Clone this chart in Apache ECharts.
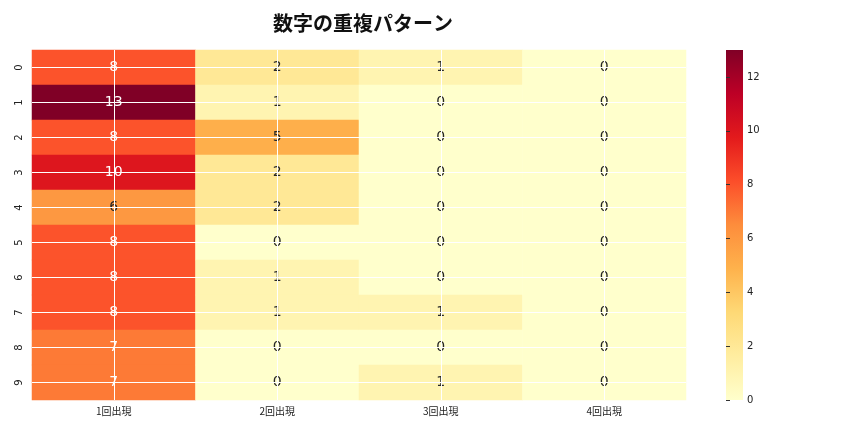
<!DOCTYPE html>
<html><head><meta charset="utf-8">
<script src="https://cdn.jsdelivr.net/npm/echarts@6/dist/echarts.min.js"></script>
<style>html,body{margin:0;padding:0;background:#fff}#c{width:864px;height:432px}</style>
</head><body><div id="c"></div>
<script>
const columns = ['1回出現','2回出現','3回出現','4回出現'];
const rows = ['0','1','2','3','4','5','6','7','8','9'];
const col1 = [8,13,8,10,6,8,8,8,7,7];
const col2 = [2,1,5,2,2,0,1,1,0,0];
const col3 = [1,0,0,0,0,0,0,1,0,1];
const col4 = [0,0,0,0,0,0,0,0,0,0];
const colorTicks = [0,2,4,6,8,10,12];
const vmin = 0, vmax = 13;
const palette = ['#ffffcc','#ffeda0','#fed976','#feb24c','#fd8d3c','#fc4e2a','#e31a1c','#bd0026','#800026'];

const cols = [col1,col2,col3,col4];
const data = [];
cols.forEach((c,ci)=>c.forEach((v,ri)=>{
  data.push({value:[ci,ri,v],label:{color: v>=7 ? '#ffffff' : '#262626'}});
}));
const font = '"DejaVu Sans","Noto Sans CJK JP",sans-serif';
const barLeft = 726, barW = 17, barTop = 50, barH = 350;
const tickMax = colorTicks[colorTicks.length-1];
const axisH = barH*tickMax/vmax;
const stops = palette.map((c,i)=>({offset:1-i/(palette.length-1),color:c}));
const chart = echarts.init(document.getElementById('c'));
chart.setOption({
  animation:false,
  title:{text:'数字の重複パターン',left:358,textAlign:'center',top:8,
    textStyle:{fontSize:20,fontWeight:'bold',color:'#111',fontFamily:'"Noto Sans CJK JP",sans-serif'}},
  grid:[{left:32,right:178,top:50,bottom:32},{left:barLeft,width:barW,top:barTop+barH-axisH,height:axisH,z:10}],
  graphic:[{type:'rect',left:barLeft,top:barTop,z:1,
    shape:{width:barW,height:barH},
    style:{fill:new echarts.graphic.LinearGradient(0,0,0,1,stops)}}],
  xAxis:[{type:'category',data:columns,gridIndex:0,axisLine:{show:false},
    axisTick:{alignWithLabel:true,length:4,lineStyle:{color:'#333'}},
    axisLabel:{fontSize:10,color:'#222',margin:6,fontFamily:'"Noto Sans CJK JP",sans-serif'},splitLine:{show:false}},
    {type:'value',gridIndex:1,show:false,min:0,max:1}],
  yAxis:[{type:'category',data:rows,inverse:true,gridIndex:0,axisLine:{show:false},
    axisTick:{alignWithLabel:true,length:4,lineStyle:{color:'#333'}},
    axisLabel:{fontSize:10,color:'#222',rotate:90,margin:8,fontFamily:font},splitLine:{show:false}},
    {type:'value',gridIndex:1,position:'right',min:colorTicks[0],max:tickMax,interval:2,z:10,
     axisLine:{show:false},axisTick:{show:true,inside:false,length:4,lineStyle:{color:'#333'}},
     axisLabel:{show:true,fontSize:10,color:'#222',margin:4,fontFamily:font},splitLine:{show:false}}],
  visualMap:{type:'continuous',show:false,min:vmin,max:vmax,seriesIndex:0,
    inRange:{color:palette}},
  series:[{type:'heatmap',xAxisIndex:0,yAxisIndex:0,data:data,
    label:{show:true,fontSize:14,fontFamily:font,textBorderWidth:0,textBorderColor:'transparent',
      formatter:p=>String(p.value[2])},
    itemStyle:{borderWidth:0},
    markLine:{silent:true,symbol:'none',label:{show:false},
      lineStyle:{color:'#ffffff',width:1,type:'solid'},
      data:columns.map(c=>({xAxis:c})).concat(rows.map(r=>({yAxis:r})))}},
   {type:'scatter',xAxisIndex:1,yAxisIndex:1,data:[[0.5,0]],symbolSize:0,silent:true,itemStyle:{opacity:0}}]
});
</script></body></html>
